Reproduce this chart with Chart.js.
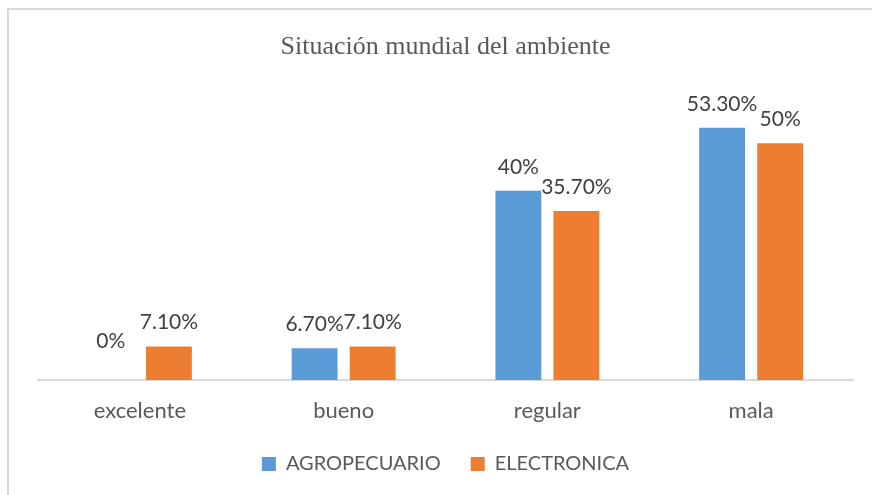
<!DOCTYPE html>
<html>
<head>
<meta charset="UTF-8">
<title>Situación mundial del ambiente</title>
<script src="https://cdn.jsdelivr.net/npm/chart.js"></script>
<style>
  body { margin: 0; background: #fff; }
  #frame { position: absolute; left: 7px; top: 8px; width: 900px; height: 600px;
           border-top: 2px solid #d9d9d9; border-left: 2px solid #d9d9d9; }
  #wrap { position: absolute; left: 0; top: 0; width: 872px; height: 495px; }
</style>
</head>
<body>
<div id="frame"></div>
<div id="wrap"><canvas id="myChart" width="872" height="495"></canvas></div>

<script>
    const categories = ['excelente', 'bueno', 'regular', 'mala'];
    const agropecuario = [0, 6.7, 40, 53.3];
    const electronica = [7.1, 7.1, 35.7, 50];
    const pctLabels = {
        AGROPECUARIO: ['0%', '6.70%', '40%', '53.30%'],
        ELECTRONICA: ['7.10%', '7.10%', '35.70%', '50%']
    };

    // labels above each bar, like Excel's data labels
    const barLabels = {
        id: 'barLabels',
        afterDatasetsDraw(chart) {
            const ctx = chart.ctx;
            const base = chart.scales.y.getPixelForValue(0);
            ctx.save();
            ctx.font = '21px Lato';
            ctx.fillStyle = '#404040';
            ctx.textAlign = 'center';
            ctx.textBaseline = 'alphabetic';
            chart.data.datasets.forEach((ds, i) => {
                chart.getDatasetMeta(i).data.forEach((bar, j) => {
                    const top = Math.min(bar.y, base - 15);
                    ctx.fillText(pctLabels[ds.label][j], bar.x, top - 17);
                });
            });
            ctx.restore();
        }
    };

    const config = {
        type: 'bar',
        data: {
            labels: categories,
            datasets: [
                { label: 'AGROPECUARIO', data: agropecuario, backgroundColor: '#5b9bd5',
                  categoryPercentage: 0.57, barPercentage: 0.79 },
                { label: 'ELECTRONICA', data: electronica, backgroundColor: '#ed7d31',
                  categoryPercentage: 0.57, barPercentage: 0.79 }
            ]
        },
        options: {
            responsive: false,
            animation: false,
            layout: { padding: { left: 38, right: 19, top: 0, bottom: 11 } },
            scales: {
                x: {
                    grid: { display: false, drawTicks: false },
                    border: { display: true, color: '#d9d9d9', width: 2 },
                    ticks: { color: '#595959', font: { family: 'Lato', size: 22 }, padding: 17.8 },
                    // padding is counted twice by default; keep only the space above the labels
                    afterFit(scale) { scale.height = 44; }
                },
                y: { display: false, min: 0, max: 60 }
            },
            plugins: {
                title: {
                    display: true,
                    text: 'Situación mundial del ambiente',
                    color: '#595959',
                    font: { family: 'Liberation Serif', size: 26, weight: 'normal' },
                    padding: { top: 31.5, bottom: 33.3 }
                },
                legend: {
                    display: true,
                    position: 'bottom',
                    labels: {
                        color: '#595959',
                        font: { family: 'Lato', size: 20 },
                        boxWidth: 14, boxHeight: 14, padding: 30
                    }
                },
                tooltip: { enabled: false }
            }
        },
        plugins: [barLabels]
    };

    new Chart(document.getElementById('myChart'), config);
</script>
</body>
</html>
